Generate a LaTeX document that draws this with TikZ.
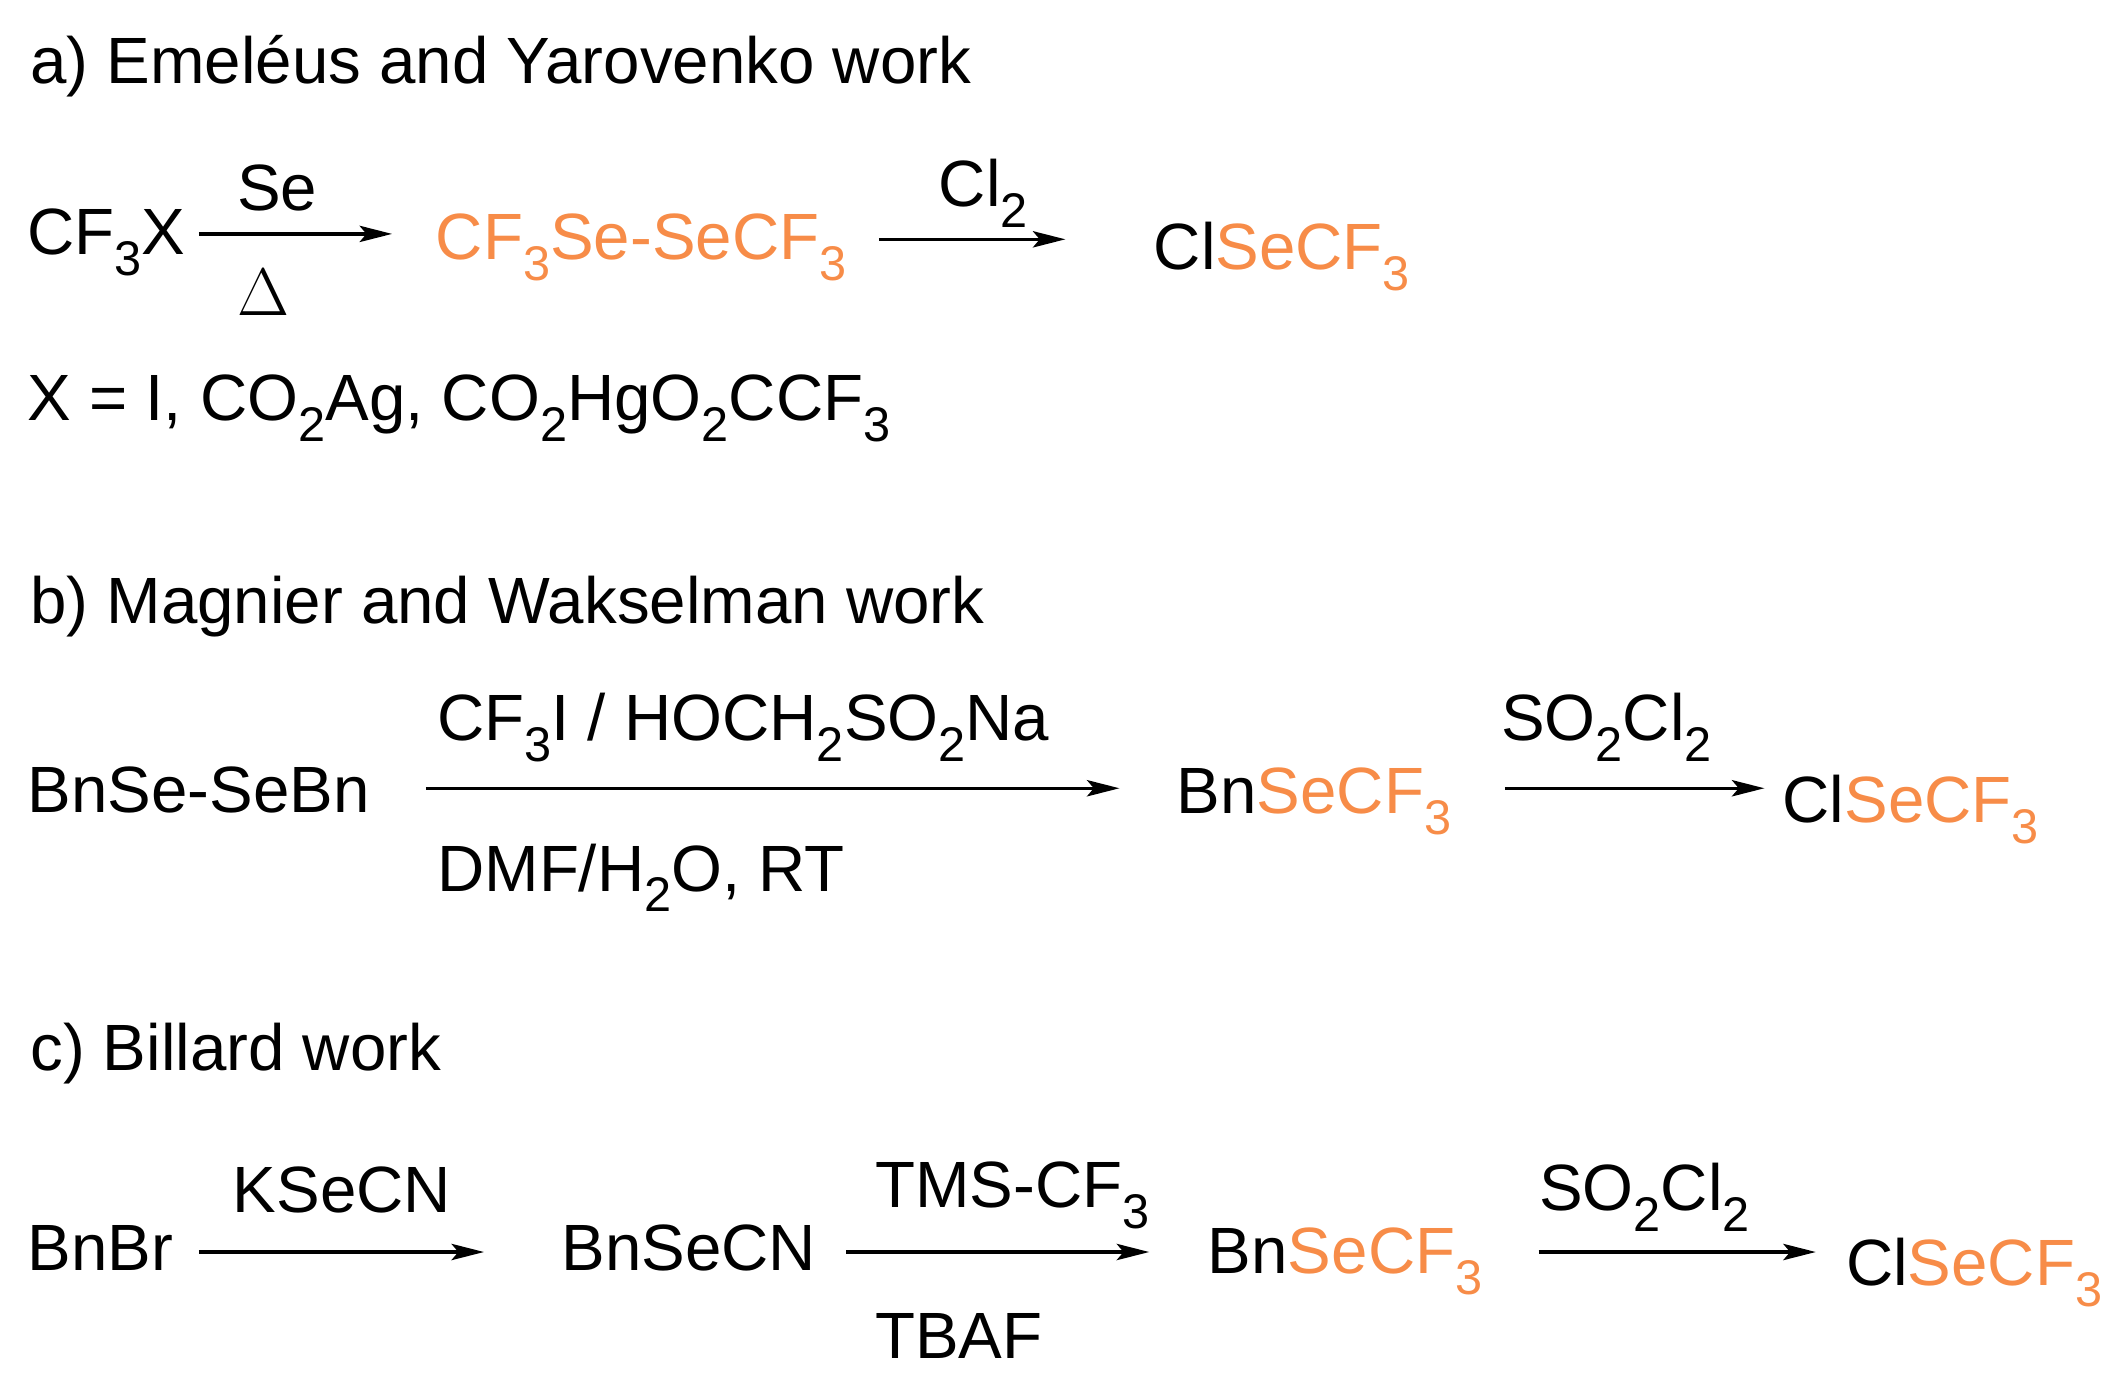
\documentclass[tikz,border=0pt]{standalone}
\usepackage{fontspec}
\setmainfont{Liberation Sans}
\usetikzlibrary{arrows.meta}
\definecolor{org}{RGB}{247,140,72}
\newcommand{\sbs}[1]{\raisebox{-0.32em}{\fontsize{18}{18}\selectfont #1}}
\newcommand{\og}[1]{\textcolor{org}{#1}}
\tikzset{t/.style={anchor=base west,inner sep=0pt,font=\fontsize{24.2}{28}\selectfont},
 tc/.style={anchor=base,inner sep=0pt,font=\fontsize{24.2}{28}\selectfont},
 rx/.style={line width=1.3pt,-{Stealth[length=12pt,width=6pt,inset=2.5pt]}}}
\begin{document}
\begin{tikzpicture}[x=0.5pt,y=-0.5pt]
\useasboundingbox (0,0) rectangle (1568,1024);
\node[t] (ta) at (22,62) {a) Emeléus and Yarovenko work};
\node[t] (a1) at (20,188) {CF\sbs{3}X};
\node[t] (a2) at (322,192) {\og{CF\sbs{3}Se-SeCF\sbs{3}}};
\node[t] (a3) at (853,199) {Cl\og{SeCF\sbs{3}}};
\coordinate (a1e) at (147,173); \coordinate (a1f) at (290,173);
\draw[rx] (a1e) -- (a1f);
\node[tc] (se) at (205,156) {Se};
\node[tc] (dl) at (195,233) {\fontsize{27}{27}\selectfont$\Delta$};
\coordinate (a2e) at (650,177); \coordinate (a2f) at (788,177);
\draw[rx] (a2e) -- (a2f);
\node[t] (cl2) at (694,153) {Cl\sbs{2}};
\node[t] (xn) at (20,311) {X = I, CO\sbs{2}Ag, CO\sbs{2}HgO\sbs{2}CCF\sbs{3}};
\node[t] (tb) at (22,461) {b) Magnier and Wakselman work};
\node[t] (b1) at (20,601) {BnSe-SeBn};
\coordinate (b1e) at (315,583); \coordinate (b1f) at (828,583);
\draw[rx] (b1e) -- (b1f);
\node[t] (b1a) at (323,548) {CF\sbs{3}I / HOCH\sbs{2}SO\sbs{2}Na};
\node[t] (b1b) at (323,659) {DMF/H\sbs{2}O, RT};
\node[t] (b2) at (870,602) {Bn\og{SeCF\sbs{3}}};
\coordinate (b2e) at (1113,583); \coordinate (b2f) at (1305,583);
\draw[rx] (b2e) -- (b2f);
\node[t] (b2a) at (1110,548) {SO\sbs{2}Cl\sbs{2}};
\node[t] (b3) at (1318,608) {Cl\og{SeCF\sbs{3}}};
\node[t] (tc) at (22,792) {c) Billard work};
\node[t] (c1) at (20,940) {BnBr};
\coordinate (c1e) at (147,926); \coordinate (c1f) at (358,926);
\draw[rx] (c1e) -- (c1f);
\node[tc] (c1a) at (253,897) {KSeCN};
\node[t] (c2) at (415,940) {BnSeCN};
\coordinate (c2e) at (626,926); \coordinate (c2f) at (850,926);
\draw[rx] (c2e) -- (c2f);
\node[t] (c2a) at (647,893) {TMS-CF\sbs{3}};
\node[t] (c2b) at (647,1005) {TBAF};
\node[t] (c3) at (893,942) {Bn\og{SeCF\sbs{3}}};
\coordinate (c3e) at (1138,926); \coordinate (c3f) at (1343,926);
\draw[rx] (c3e) -- (c3f);
\node[t] (c3a) at (1138,895) {SO\sbs{2}Cl\sbs{2}};
\node[t] (c4) at (1365,951) {Cl\og{SeCF\sbs{3}}};
\end{tikzpicture}
\end{document}
